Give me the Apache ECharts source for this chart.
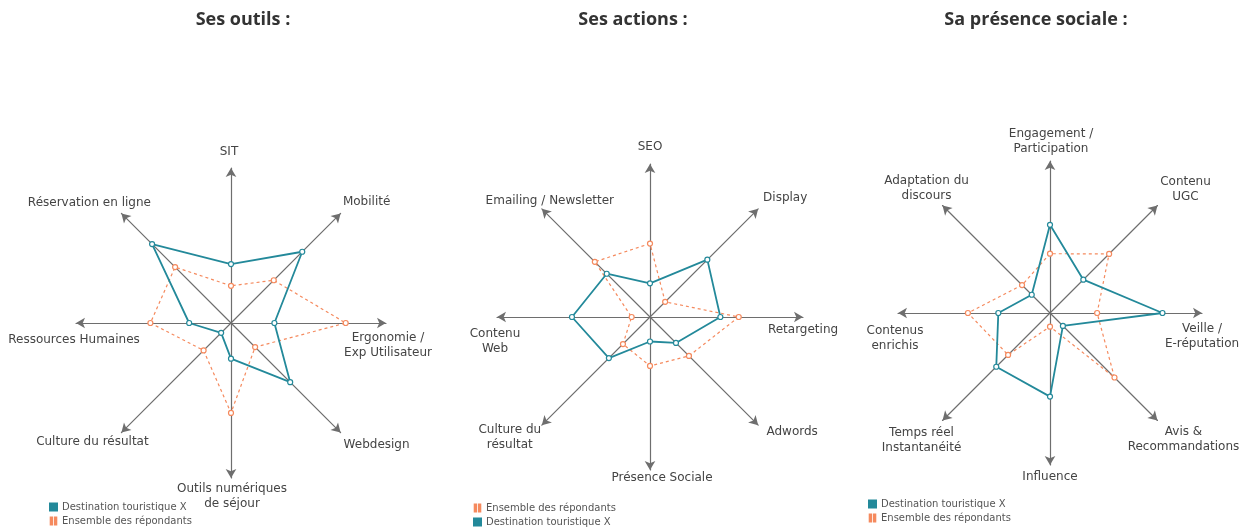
<!DOCTYPE html>
<html>
<head>
<meta charset="utf-8">
<script src="https://cdn.jsdelivr.net/npm/echarts@6/dist/echarts.min.js"></script>
<style>
html, body { margin: 0; padding: 0; background: #fff; }
#main { width: 1255px; height: 527px; }
</style>
</head>
<body>
<div id="main"></div>
<script>
// noms des axes (ordre anti-horaire depuis le haut)
var outilsAxes = ['SIT', 'Réservation en ligne', 'Ressources Humaines', 'Culture du résultat',
	'Outils numériques\nde séjour', 'Webdesign', 'Ergonomie /\nExp Utilisateur', 'Mobilité'];
var outilsDest = [38, 72, 27, 9, 23, 54, 28, 65];
var outilsEns = [24, 51, 52, 25, 58, 22, 74, 39];

var actionsAxes = ['SEO', 'Emailing / Newsletter', 'Contenu\nWeb', 'Culture du\nrésultat',
	'Présence Sociale', 'Adwords', 'Retargeting', 'Display'];
var actionsDest = [22, 40, 51, 38, 16, 24, 46, 53];
var actionsEns = [48, 51, 12, 25, 32, 36, 58, 14];

var socialAxes = ['Engagement /\nParticipation', 'Adaptation du\ndiscours', 'Contenus\nenrichis',
	'Temps réel\nInstantanéité', 'Influence', 'Avis &\nRecommandations', 'Veille /\nE-réputation', 'Contenu\nUGC'];
var socialDest = [58, 17, 34, 50, 55, 12, 74, 31];
var socialEns = [39, 26, 54, 39, 9, 60, 31, 55];

var titles = ['Ses outils :', 'Ses actions :', 'Sa présence sociale :'];
var nameDest = 'Destination touristique X';
var nameEns = 'Ensemble des répondants';

// décalage des libellés par rapport au bout de chaque flèche
var outilsNameOffset = [[-2, -16], [-32, -11], [-2, 17], [-29, 9], [1, 18], [36, 12], [2, 22], [26, -12]];
var actionsNameOffset = [[0, -17], [8, -8], [-2, 24], [-32, 12], [12, 8], [34, 7], [0, 13], [27, -11]];
var socialNameOffset = [[1, -20], [-16, -17], [-3, 25], [-21, 20], [0, 12], [26, 19], [0, 23], [28, -16]];

var teal = '#23899a';
var orange = '#f58a5e';

var radarCenters = [[231, 323], [650, 317], [1050, 313]];
var radarRadius = [155, 153, 152];

function indicators(axes) {
	return axes.map(function(n) {
		return { name : n, max : 100, min : 0 };
	});
}

function radarBox(axes, idx) {
	return {
		center : radarCenters[idx],
		radius : radarRadius[idx],
		startAngle : 90,
		shape : 'polygon',
		splitNumber : 1,
		indicator : indicators(axes),
		axisName : { show : false },
		axisLine : {
			show : true,
			symbol : [ 'none', 'arrow' ],
			symbolSize : [ 8, 9 ],
			lineStyle : {
				color : '#6e6e6e',
				width : 1.2
			}
		},
		splitLine : { show : false },
		splitArea : { show : false },
		axisTick : { show : false },
		axisLabel : { show : false }
	};
}

// libellés des axes, centrés comme dans l'original
function axisNames(axes, offsets, idx) {
	var c = radarCenters[idx], r = radarRadius[idx];
	return axes.map(function(n, i) {
		var a = Math.PI / 2 + i * Math.PI / 4;
		var tx = c[0] + r * Math.cos(a);
		var ty = c[1] - r * Math.sin(a);
		return {
			type : 'text',
			x : tx + offsets[i][0],
			y : ty + offsets[i][1],
			silent : true,
			style : {
				text : n,
				fill : '#444',
				fontFamily : 'DejaVu Sans',
				fontSize : 12,
				lineHeight : 15,
				align : 'center',
				verticalAlign : 'middle'
			}
		};
	});
}

function radarSeries(idx, dest, ens) {
	return {
		type : 'radar',
		radarIndex : idx,
		symbol : 'circle',
		symbolSize : 5,
		data : [ {
			name : nameEns,
			value : ens,
			lineStyle : { color : orange, width : 1.2, type : [ 3, 3 ] },
			itemStyle : { color : '#fff', borderColor : orange, borderWidth : 1.2 }
		}, {
			name : nameDest,
			value : dest,
			lineStyle : { color : teal, width : 1.8 },
			itemStyle : { color : '#fff', borderColor : teal, borderWidth : 1.2 }
		} ]
	};
}

var destIcon = { name : nameDest, icon : 'rect', itemStyle : { color : teal } };
var ensIcon = { name : nameEns, icon : 'path://M0,0h2v10h-2z M6,0h2v10h-2z', itemStyle : { color : orange } };

function legendBox(left, top, order) {
	return {
		left : left,
		top : top,
		orient : 'vertical',
		padding : 0,
		itemWidth : 7,
		itemHeight : 7,
		itemGap : 4,
		selectedMode : false,
		textStyle : { color : '#555', fontFamily : 'DejaVu Sans', fontSize : 10, lineHeight : 10 },
		data : order
	};
}

var titleCenters = [ 238, 628, 1031 ];

option = {
	animation : false,
	title : titles.map(function(t, i) {
		return {
			text : t,
			left : titleCenters[i],
			top : 6,
			textAlign : 'center',
			textStyle : {
				fontFamily : 'Open Sans',
				fontWeight : 'bold',
				fontSize : 18,
				color : '#333'
			}
		};
	}),
	legend : [
		legendBox(49, 502, [ destIcon, ensIcon ]),
		legendBox(473, 503, [ ensIcon, destIcon ]),
		legendBox(868, 499, [ destIcon, ensIcon ])
	],
	radar : [
		radarBox(outilsAxes, 0),
		radarBox(actionsAxes, 1),
		radarBox(socialAxes, 2)
	],
	graphic : [].concat(
		axisNames(outilsAxes, outilsNameOffset, 0),
		axisNames(actionsAxes, actionsNameOffset, 1),
		axisNames(socialAxes, socialNameOffset, 2)
	),
	series : [
		radarSeries(0, outilsDest, outilsEns),
		radarSeries(1, actionsDest, actionsEns),
		radarSeries(2, socialDest, socialEns)
	]
};

myChart = echarts.init(document.getElementById('main'));
myChart.setOption(option, true);

window.onresize = function() {
	myChart.resize();
}
</script>
</body>
</html>
